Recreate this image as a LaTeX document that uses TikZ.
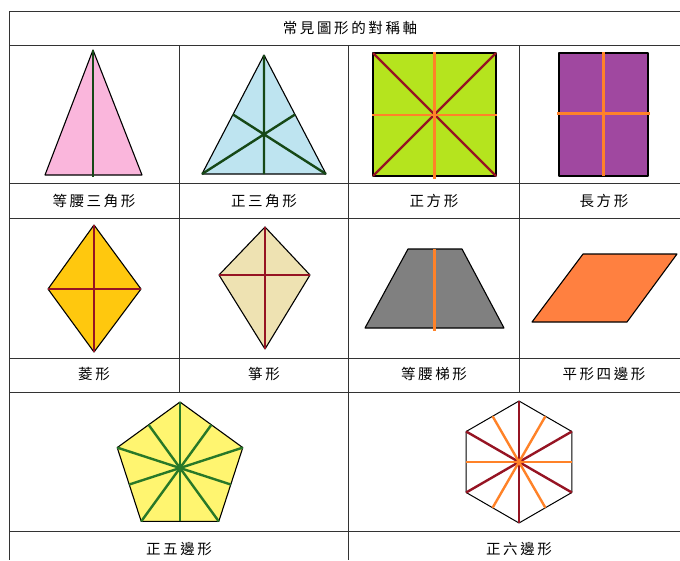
\documentclass[tikz,border=0pt]{standalone}
\usepackage{fontspec}
\usepackage{xcolor}
\newfontfamily\cjk[LetterSpace=18]{Noto Sans CJK TC}
\usetikzlibrary{calc}

\definecolor{rosa}{RGB}{250,182,220}
\definecolor{lysbla}{RGB}{190,228,240}
\definecolor{gronngul}{RGB}{181,228,30}
\definecolor{lilla}{RGB}{160,72,160}
\definecolor{gul}{RGB}{255,200,14}
\definecolor{beige}{RGB}{238,226,178}
\definecolor{gra}{RGB}{128,128,128}
\definecolor{oransje}{RGB}{255,128,64}
\definecolor{lysgul}{RGB}{255,245,112}
\definecolor{morkgronn}{RGB}{22,72,22}
\definecolor{gronn}{RGB}{40,120,40}
\definecolor{morkrod}{RGB}{150,20,35}
\definecolor{linjeoransje}{RGB}{255,130,40}

\begin{document}
\begin{tikzpicture}[x=1pt, y=-1pt,
	rute/.style={draw=black!80, line width=1pt},
	form/.style={draw=black, line width=1.1pt, line join=round},
	akse/.style={line width=2.4pt},
	etikett/.style={font=\cjk\fontsize{14.5}{15}\selectfont, inner sep=0pt}]
	\useasboundingbox (0,0) rectangle (680,560);

	%Tabellen går her
	\foreach \y in {11,45,183,218,358,392.5,531}
		\draw[rute] (9.5,\y) -- (690,\y);
	\draw[rute] (9.5,11) -- (9.5,560);
	\draw[rute] (179,45) -- (179,392.5);
	\draw[rute] (348.5,45) -- (348.5,560);
	\draw[rute] (519,45) -- (519,392.5);

	%Tekstene
	\node[etikett] (tittel) at (350,28) {常見圖形的對稱軸};
	\node[etikett] (l1) at (94,201) {等腰三角形};
	\node[etikett] (l2) at (264,201) {正三角形};
	\node[etikett] (l3) at (434,201) {正方形};
	\node[etikett] (l4) at (604,201) {長方形};
	\node[etikett] (l5) at (94,374) {菱形};
	\node[etikett] (l6) at (264,374) {箏形};
	\node[etikett] (l7) at (434,374) {等腰梯形};
	\node[etikett] (l8) at (604,374) {平形四邊形};
	\node[etikett] (l9) at (179,549) {正五邊形};
	\node[etikett] (l10) at (519,549) {正六邊形};

	%Likebent trekant
	\coordinate (a1) at (93,50);
	\coordinate (a2) at (142,175);
	\coordinate (a3) at (45,175);
	\draw[form, fill=rosa] (a1) -- (a2) -- (a3) -- cycle;
	\draw[akse, morkgronn] (a1) -- (93,177);

	%Likesidet trekant
	\coordinate (b1) at (264,55);
	\coordinate (b2) at (326,174);
	\coordinate (b3) at (202,174);
	\draw[form, fill=lysbla] (b1) -- (b2) -- (b3) -- cycle;
	\draw[akse, morkgronn] (b1) -- ($(b2)!0.5!(b3)$)
		(b2) -- ($(b1)!0.5!(b3)$)
		(b3) -- ($(b1)!0.5!(b2)$);

	%Kvadrat
	\coordinate (c1) at (373,53);
	\coordinate (c2) at (496,53);
	\coordinate (c3) at (496,176);
	\coordinate (c4) at (373,176);
	\draw[form, fill=gronngul] (c1) -- (c2) -- (c3) -- (c4) -- cycle;
	\draw[akse, morkrod] (c1) -- (c3) (c2) -- (c4);
	\draw[akse, linjeoransje] (434.5,52) -- (434.5,179) (372,115) -- (497,115);

	%Rektangel
	\coordinate (d1) at (559,53);
	\coordinate (d3) at (648,176);
	\draw[form, fill=lilla] (d1) rectangle (d3);
	\draw[akse, linjeoransje] (603.5,52) -- (603.5,176) (557,113.5) -- (650,113.5);

	%Rombe
	\coordinate (e1) at (94,225);
	\coordinate (e2) at (141,289);
	\coordinate (e3) at (94,352);
	\coordinate (e4) at (48,289);
	\draw[form, fill=gul] (e1) -- (e2) -- (e3) -- (e4) -- cycle;
	\draw[akse, morkrod] (e1) -- (e3) (e2) -- (e4);

	%Drage
	\coordinate (f1) at (265,227);
	\coordinate (f2) at (310,275);
	\coordinate (f3) at (265,349);
	\coordinate (f4) at (219,275);
	\draw[form, fill=beige] (f1) -- (f2) -- (f3) -- (f4) -- cycle;
	\draw[akse, morkrod] (f1) -- (f3) (f2) -- (f4);

	%Trapes
	\coordinate (g1) at (408,249);
	\coordinate (g2) at (462,249);
	\coordinate (g3) at (504,328);
	\coordinate (g4) at (365,328);
	\draw[form, fill=gra] (g1) -- (g2) -- (g3) -- (g4) -- cycle;
	\draw[akse, linjeoransje] (434.5,249) -- (434.5,331);

	%Parallellogram
	\coordinate (h1) at (583,254);
	\coordinate (h2) at (677,254);
	\coordinate (h3) at (627,322);
	\coordinate (h4) at (532,322);
	\draw[form, fill=oransje] (h1) -- (h2) -- (h3) -- (h4) -- cycle;

	%Femkant
	\begin{scope}[shift={(180,468)}]
		\draw[form, fill=lysgul] (-90:66) -- (-18:66) -- (54:66) -- (126:66) -- (198:66) -- cycle;
		\foreach \v in {-90,-18,54,126,198}
			\draw[akse, gronn] (\v:66) -- (\v+180:53.4);
		\fill[gronn] (0,0) circle (2.5);
	\end{scope}

	%Sekskant
	\begin{scope}[shift={(519,462)}]
		\draw[form, line width=1pt] (-90:61) -- (-30:61) -- (30:61) -- (90:61) -- (150:61) -- (210:61) -- cycle;
		\foreach \v in {-90,-30,30}
			\draw[akse, morkrod] (\v:61) -- (\v+180:61);
		\foreach \v in {0,60,120}
			\draw[akse, linjeoransje] (\v:52.8) -- (\v+180:52.8);
	\end{scope}
\end{tikzpicture}
\end{document}
